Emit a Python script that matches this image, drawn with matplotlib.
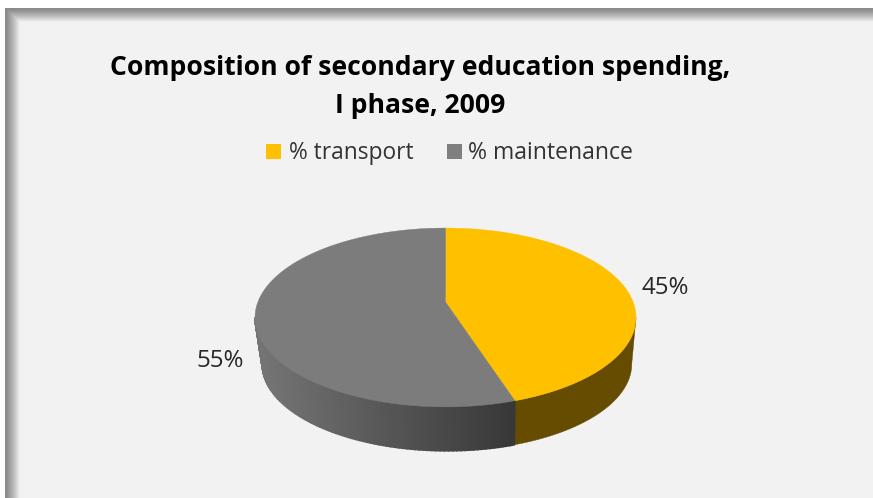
import numpy as np
import matplotlib
matplotlib.use("Agg")
import matplotlib.pyplot as plt
from matplotlib.patches import Polygon, Rectangle

# ---- data ----
categories = ["% transport", "% maintenance"]
shares = [45, 55]
labels = ["45%", "55%"]
title = "Composition of secondary education spending,\nI phase, 2009"

COL_TOP = ["#FFC000", "#7C7C7C"]
COL_LEGEND = ["#FFC000", "#7F7F7F"]
COL_SIDE_GOLD = "#664C00"
SIDE_GRAY_L, SIDE_GRAY_R = np.array([0x74] * 3) / 255, np.array([0x38] * 3) / 255

W, H = 873, 498
fig = plt.figure(figsize=(W / 100, H / 100), dpi=100, facecolor="white")
ax = fig.add_axes([0, 0, 1, 1])
ax.set_xlim(0, W)
ax.set_ylim(H, 0)
ax.axis("off")

# soft frame: light panel with inner shadow on the left and top edges
yy, xx = np.mgrid[0:H, 0:W]
def ramp(d, n):
    return np.clip(d / n, 0, 1)
shade = np.minimum(ramp(xx - 5.5, 14), ramp(yy - 8.5, 13))
val = 0.54 + (0.949 - 0.54) * shade ** 1.2
val[(xx < 5) | (yy < 8)] = 1.0
ax.imshow(val, cmap="gray", vmin=0, vmax=1, extent=(0, W, H, 0), zorder=0,
          aspect="auto", interpolation="bilinear")

# perspective projection of the unit disc, angle measured clockwise from 12 o'clock
CX, VY, A, C, B = 445.5, 302.0, 187.6, 0.173, -34.5
def project(theta, level=0.0):
    """level 0 = top face, 1 = bottom rim."""
    u, v = np.sin(theta), np.cos(theta)
    d = C * v + 1
    x = A * u / d
    y = (B * v + VY) / d - VY
    s = 1 - 0.03 * level
    return CX + 1.5 * level + x * s, VY + 47 * level + y * s

fractions = np.array(shares, float) / sum(shares)
edges = np.concatenate([[0], np.cumsum(fractions)]) * 2 * np.pi

# side wall, between the silhouette points of the ellipse
RIGHT, LEFT = np.radians(100), np.radians(260)
for i, (a0, a1) in enumerate(zip(edges[:-1], edges[1:])):
    lo, hi = max(a0, RIGHT), min(a1, LEFT)
    ts = np.linspace(lo, hi, 90)
    if i == 0:
        # one solid wall for the gold slice
        xt, yt = project(ts)
        xb, yb = project(ts, 1)
        ax.add_patch(Polygon(np.column_stack([np.r_[xt, xb[::-1]], np.r_[yt, yb[::-1]]]),
                             closed=True, fc=COL_SIDE_GOLD, ec=COL_SIDE_GOLD, lw=0.3, zorder=2))
        continue
    # left-to-right shading for the gray slice
    for t0, t1 in zip(ts[:-1], ts[1:]):
        x0, y0 = project(t0)
        x1, y1 = project(t1)
        x2, y2 = project(t1, 1)
        x3, y3 = project(t0, 1)
        f = np.clip((x0 - 262) / (516 - 262), 0, 1)
        col = tuple(SIDE_GRAY_L * (1 - f) + SIDE_GRAY_R * f)
        ax.add_patch(Polygon([(x0, y0), (x1, y1), (x2, y2), (x3, y3)],
                             closed=True, fc=col, ec=col, lw=1.2, zorder=2))

# top face
for a0, a1, col in zip(edges[:-1], edges[1:], COL_TOP):
    ts = np.linspace(a0, a1, 240)
    xs, ys = project(ts)
    pts = np.column_stack([np.r_[CX, xs], np.r_[VY, ys]])
    ax.add_patch(Polygon(pts, closed=True, fc=col, ec=col, lw=0.3, zorder=3))

# data labels
ax.text(665.5, 287.5, labels[0], fontsize=17.3, family="Open Sans", color="#262626",
        ha="center", va="center", zorder=5)
ax.text(220, 360.5, labels[1], fontsize=17.3, family="Open Sans", color="#262626",
        ha="center", va="center", zorder=5)

# title
ax.text(420.5, 87, title, fontsize=19.1, family="Open Sans", fontweight="bold",
        color="black", ha="center", va="center", linespacing=1.58, zorder=5)

# legend
ax.add_patch(Rectangle((266, 144), 15, 15, fc=COL_LEGEND[0], ec="none", zorder=5))
ax.text(289, 153, categories[0], fontsize=16.4, family="Open Sans", color="#333333",
        ha="left", va="center", zorder=5)
ax.add_patch(Rectangle((447, 144), 15, 15, fc=COL_LEGEND[1], ec="none", zorder=5))
ax.text(468, 153, categories[1], fontsize=16.6, family="Open Sans", color="#333333",
        ha="left", va="center", zorder=5)

fig.savefig("out.png", dpi=100, facecolor="white")
